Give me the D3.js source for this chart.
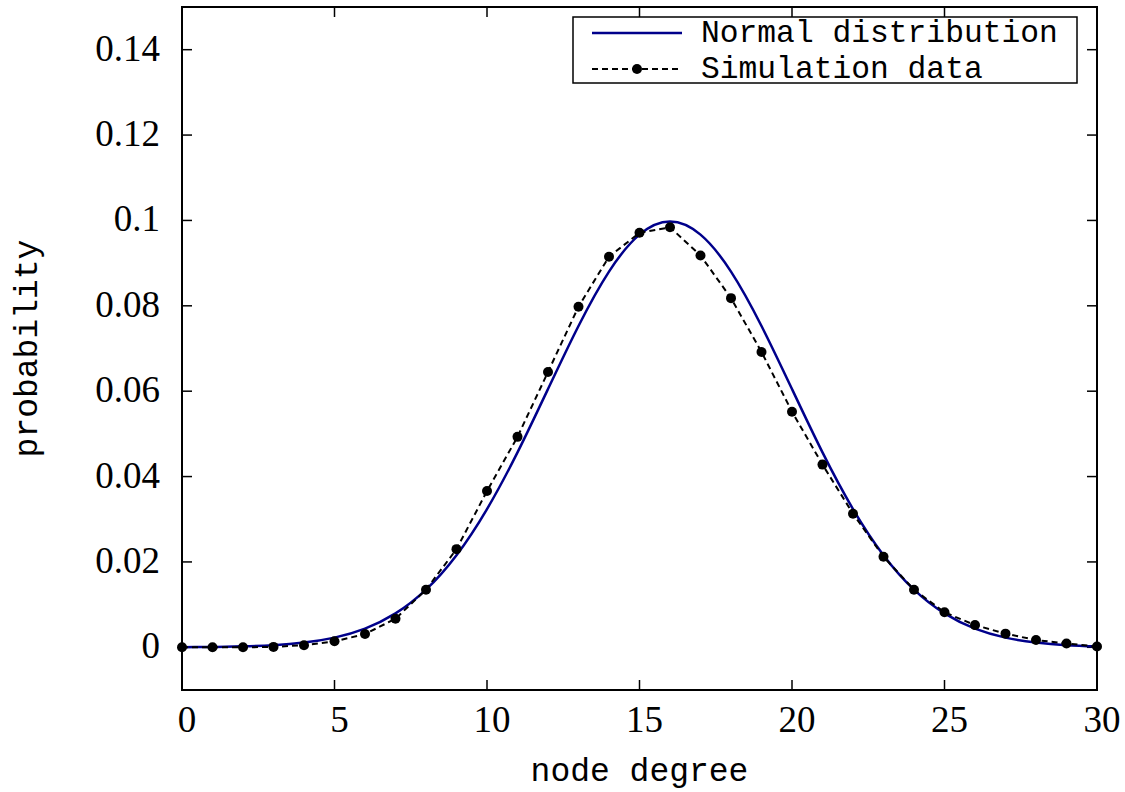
<!DOCTYPE html>
<html>
<head>
<meta charset="utf-8">
<script src="https://cdn.jsdelivr.net/npm/d3@7"></script>
<style>
  body { margin: 0; background: white; }
  #wrapper { width: 1125px; height: 792px; }
</style>
</head>
<body>
<div id="wrapper"></div>
<script>
// node degree, 0..30
const degrees = d3.range(0, 31)

// simulation data
const simValues = [
  0.0000, 0.0000, 0.0000, 0.0001, 0.0005, 0.0014, 0.0031, 0.0067, 0.0135, 0.0230,
  0.0366, 0.0493, 0.0645, 0.0798, 0.0915, 0.0971, 0.0984, 0.0918, 0.0818, 0.0692,
  0.0552, 0.0428, 0.0313, 0.0212, 0.0135, 0.0082, 0.0052, 0.0032, 0.0017, 0.0009,
  0.0002,
]

// normal distribution curve (mean ~16, peak ~0.0997), read at each degree
const normalValues = [
  0.00003, 0.00009, 0.00022, 0.00051, 0.00111, 0.00227, 0.00438, 0.00794, 0.01350, 0.02157,
  0.03238, 0.04566, 0.06050, 0.07528, 0.08802, 0.09667, 0.09974, 0.09667, 0.08802, 0.07528,
  0.06050, 0.04566, 0.03238, 0.02157, 0.01350, 0.00794, 0.00438, 0.00227, 0.00111, 0.00051,
  0.00022,
]

const xTicks = [0, 5, 10, 15, 20, 25, 30]
const yTicks = [0, 0.02, 0.04, 0.06, 0.08, 0.1, 0.12, 0.14]
const yTickLabels = ["0", "0.02", "0.04", "0.06", "0.08", "0.1", "0.12", "0.14"]

const legendLabels = ["Normal distribution", "Simulation data"]

function drawChart() {
  const simData = degrees.map((d, i) => ({ x: d, y: simValues[i] }))
  const normalData = degrees.map((d, i) => ({ x: d, y: normalValues[i] }))

  const xAccessor = d => d.x
  const yAccessor = d => d.y

  let dimensions = {
    width: 1125,
    height: 792,
    margin: {
      top: 7,
      right: 28,
      bottom: 102,
      left: 182,
    },
  }
  dimensions.boundedWidth = dimensions.width
    - dimensions.margin.left
    - dimensions.margin.right
  dimensions.boundedHeight = dimensions.height
    - dimensions.margin.top
    - dimensions.margin.bottom

  const wrapper = d3.select("#wrapper")
    .append("svg")
      .attr("width", dimensions.width)
      .attr("height", dimensions.height)

  const bounds = wrapper.append("g")
      .attr("transform", `translate(${dimensions.margin.left}, ${dimensions.margin.top})`)

  // scales
  const xScale = d3.scaleLinear()
    .domain([0, 30])
    .range([0, dimensions.boundedWidth])

  const yScale = d3.scaleLinear()
    .domain([-0.01, 0.15])
    .range([dimensions.boundedHeight, 0])

  const serif = "'Liberation Serif', 'Times New Roman', serif"
  const mono = "'Liberation Mono', 'DejaVu Sans Mono', monospace"

  // ticks pointing inward, on all four sides
  const tickLen = 10
  const ticks = bounds.append("g")
      .attr("stroke", "black")
      .attr("stroke-width", 1.5)

  xTicks.forEach(t => {
    ticks.append("line")
      .attr("x1", xScale(t)).attr("x2", xScale(t))
      .attr("y1", dimensions.boundedHeight).attr("y2", dimensions.boundedHeight - tickLen)
    ticks.append("line")
      .attr("x1", xScale(t)).attr("x2", xScale(t))
      .attr("y1", 0).attr("y2", tickLen)
  })
  yTicks.forEach(t => {
    ticks.append("line")
      .attr("x1", 0).attr("x2", tickLen)
      .attr("y1", yScale(t)).attr("y2", yScale(t))
    ticks.append("line")
      .attr("x1", dimensions.boundedWidth).attr("x2", dimensions.boundedWidth - tickLen)
      .attr("y1", yScale(t)).attr("y2", yScale(t))
  })

  // tick labels
  bounds.append("g").selectAll("text")
    .data(xTicks)
    .join("text")
      .attr("x", d => xScale(d) + 5)
      .attr("y", dimensions.boundedHeight + 42)
      .attr("text-anchor", "middle")
      .style("font-family", serif)
      .style("font-size", "37px")
      .text(d => d)

  bounds.append("g").selectAll("text")
    .data(yTicks)
    .join("text")
      .attr("x", -22)
      .attr("y", d => yScale(d) + 11)
      .attr("text-anchor", "end")
      .style("font-family", serif)
      .style("font-size", "37px")
      .text((d, i) => yTickLabels[i])

  // normal curve
  const normalLine = d3.line()
    .x(d => xScale(xAccessor(d)))
    .y(d => yScale(yAccessor(d)))
    .curve(d3.curveNatural)

  bounds.append("path")
    .datum(normalData)
    .attr("d", normalLine)
    .attr("fill", "none")
    .attr("stroke", "#00008b")
    .attr("stroke-width", 2.5)

  // simulation data
  const simLine = d3.line()
    .x(d => xScale(xAccessor(d)))
    .y(d => yScale(yAccessor(d)))

  bounds.append("path")
    .datum(simData)
    .attr("d", simLine)
    .attr("fill", "none")
    .attr("stroke", "black")
    .attr("stroke-width", 2)
    .attr("stroke-dasharray", "6 4")

  bounds.selectAll(".dot")
    .data(simData)
    .join("circle")
      .attr("class", "dot")
      .attr("cx", d => xScale(xAccessor(d)))
      .attr("cy", d => yScale(yAccessor(d)))
      .attr("r", 5)
      .attr("fill", "black")

  // frame
  bounds.append("rect")
    .attr("width", dimensions.boundedWidth)
    .attr("height", dimensions.boundedHeight)
    .attr("fill", "none")
    .attr("stroke", "black")
    .attr("stroke-width", 2)

  // legend
  const legend = wrapper.append("g")
  legend.append("rect")
    .attr("x", 573).attr("y", 17)
    .attr("width", 504).attr("height", 66)
    .attr("fill", "white")
    .attr("stroke", "black")
    .attr("stroke-width", 1.5)

  legend.append("line")
    .attr("x1", 592).attr("x2", 682)
    .attr("y1", 33).attr("y2", 33)
    .attr("stroke", "#00008b")
    .attr("stroke-width", 2.5)

  legend.append("line")
    .attr("x1", 592).attr("x2", 682)
    .attr("y1", 69).attr("y2", 69)
    .attr("stroke", "black")
    .attr("stroke-width", 2)
    .attr("stroke-dasharray", "6 4")

  legend.append("circle")
    .attr("cx", 637).attr("cy", 69)
    .attr("r", 5)
    .attr("fill", "black")

  legend.selectAll(".label")
    .data(legendLabels)
    .join("text")
      .attr("class", "label")
      .attr("x", 701)
      .attr("y", (d, i) => 42 + i * 36)
      .style("font-family", mono)
      .style("font-size", "31.3px")
      .text(d => d)

  // axis titles
  wrapper.append("text")
    .attr("x", dimensions.margin.left + dimensions.boundedWidth / 2)
    .attr("y", 781)
    .attr("text-anchor", "middle")
    .style("font-family", mono)
    .style("font-size", "33px")
    .text("node degree")

  wrapper.append("text")
    .attr("transform", `translate(37, ${dimensions.margin.top + dimensions.boundedHeight / 2}) rotate(-90)`)
    .attr("text-anchor", "middle")
    .style("font-family", mono)
    .style("font-size", "33px")
    .text("probability")
}

drawChart()
</script>
</body>
</html>
